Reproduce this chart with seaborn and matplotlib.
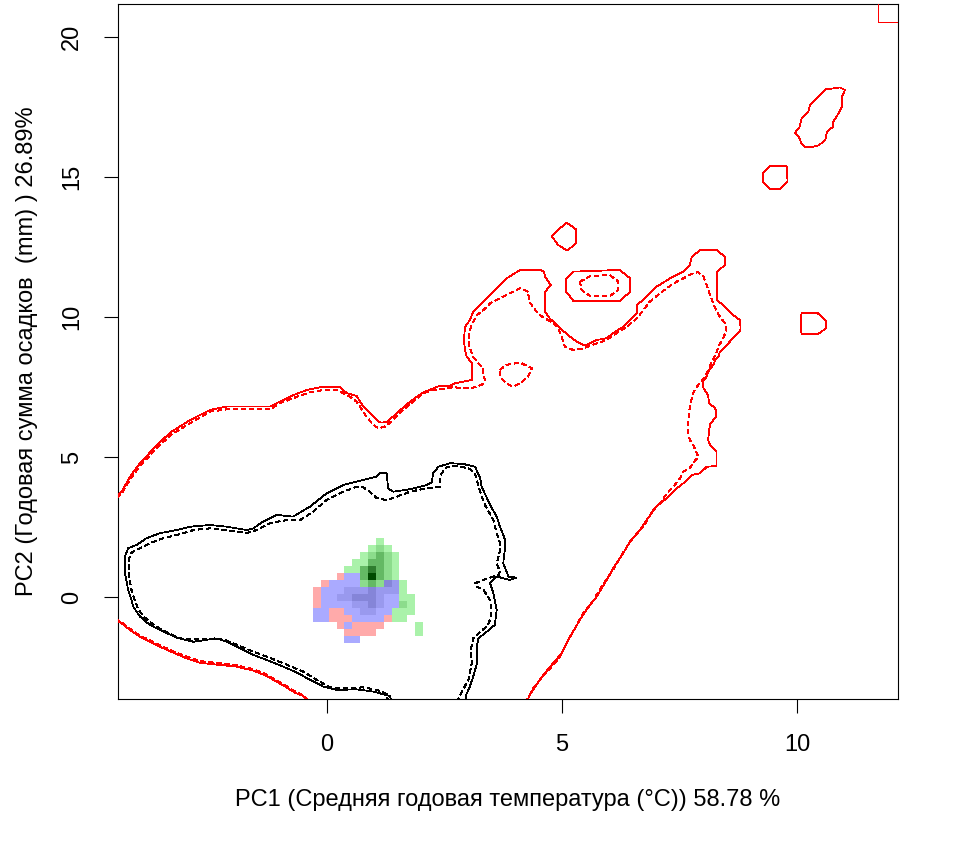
import numpy as np
import matplotlib
matplotlib.use("Agg")
import matplotlib.pyplot as plt
from matplotlib.colors import to_rgba
import seaborn as sns

sns.set_theme(style="white")
plt.rcParams["font.family"] = ["Liberation Sans", "DejaVu Sans"]
plt.rcParams["lines.scale_dashes"] = False

XLIM = (-4.447, 12.149)
YLIM = (-3.643, 21.18)
X_TICKS = [0, 5, 10]
Y_TICKS = [0, 5, 10, 15, 20]
X_LABEL = "PC1 (Средняя годовая температура (°C)) 58.78 %"
Y_LABEL = "PC2 (Годовая сумма осадков  (mm) ) 26.89%"

# occupied block of the 100x100 density grid (top-left cell corner + cell size)
GRID_X0, GRID_Y0 = -0.298, 2.066
GRID_DX, GRID_DY = 0.166, 0.2482
GRID_ROWS = [
    "........a.....",
    ".......aba....",
    "......abcba...",
    ".....aaccba...",
    "....aacdcba...",
    "...ruucecba...",
    ".ruuuubcbwva..",
    "ruuuvvvwvvva..",
    "ruuvvwwwvuuaa.",
    "ruuuuvvwvuuba.",
    "uurruuvvuuaaa.",
    "uurrruuuuraa..",
    "...rurrrr....a",
    "....rrrr.....a",
    "....uu........",
]
CELL_COLORS = {
    "r": "#ffaaaa",  # unfilling
    "a": "#aaf2aa", "b": "#8cdc8c", "c": "#64b964", "d": "#2e7d2e", "e": "#004b00",  # expansion
    "u": "#aaaaff", "v": "#9999ee", "w": "#8585d8",  # stability
}

# red: invaded-range environment (solid 100 %, dashed 50 %)
RED_SOLID_MAIN = [
    (-4.47, 3.60), (-4.37, 3.76), (-4.19, 4.30), (-3.98, 4.78), (-3.70, 5.28), (-3.34, 5.87),
    (-2.91, 6.32), (-2.49, 6.68), (-2.13, 6.80), (-1.64, 6.80), (-1.21, 6.80), (-1.00, 6.98),
    (-0.72, 7.21), (-0.43, 7.39), (-0.15, 7.49), (0.28, 7.49), (0.42, 7.28), (0.63, 7.18),
    (0.77, 6.80), (0.99, 6.44), (1.13, 6.23), (1.27, 6.24), (1.48, 6.56), (1.77, 6.98),
    (2.05, 7.31), (2.40, 7.54), (2.62, 7.54), (2.72, 7.63), (2.90, 7.69), (3.08, 7.75),
    (3.09, 7.93), (3.09, 8.35), (2.97, 8.58), (2.94, 8.82), (2.91, 9.18), (2.94, 9.65),
    (3.04, 9.89), (3.11, 10.19), (3.29, 10.49), (3.54, 10.90), (3.82, 11.38), (4.11, 11.68),
    (4.53, 11.68), (4.62, 11.62), (4.64, 11.44), (4.76, 11.14), (4.64, 10.90), (4.64, 10.19),
    (4.74, 9.95), (4.96, 9.60), (5.17, 9.30), (5.31, 9.12), (5.45, 9.00), (5.53, 9.00),
    (5.74, 9.18), (5.95, 9.24), (6.09, 9.42), (6.30, 9.65), (6.45, 9.89), (6.59, 10.13),
    (6.60, 10.43), (6.80, 10.73), (7.01, 11.08), (7.30, 11.38), (7.44, 11.50), (7.58, 11.62),
    (7.72, 11.86), (7.76, 12.15), (7.94, 12.39), (8.29, 12.39), (8.47, 12.15), (8.47, 11.86),
    (8.30, 11.62), (8.30, 10.61), (8.50, 10.31), (8.64, 10.07), (8.79, 9.89), (8.80, 9.54),
    (8.64, 9.24), (8.47, 8.94), (8.36, 8.76), (8.33, 8.58), (8.26, 8.46), (8.22, 8.29),
    (8.11, 8.05), (8.08, 7.87), (7.99, 7.69), (8.01, 7.45), (8.11, 7.21), (8.13, 6.92),
    (8.22, 6.80), (8.28, 6.68), (8.28, 6.44), (8.16, 6.20), (8.13, 5.96), (8.11, 5.61),
    (8.15, 5.43), (8.29, 5.19), (8.29, 4.68), (8.08, 4.65), (7.94, 4.42), (7.76, 4.36),
    (7.58, 4.06), (7.44, 3.88), (7.23, 3.53), (7.01, 3.23), (6.80, 2.75), (6.66, 2.39),
    (6.45, 1.98), (6.30, 1.56), (6.09, 1.03), (5.95, 0.61), (5.74, 0.01), (5.56, -0.35),
    (5.38, -0.82), (5.17, -1.42), (4.99, -2.01), (4.81, -2.37), (4.60, -2.79), (4.46, -3.14),
    (4.36, -3.38), (4.30, -3.56), (4.25, -3.75),
]
RED_DASHED_MAIN = [
    (-4.47, 3.55), (-4.37, 3.70), (-4.19, 4.20), (-3.98, 4.68), (-3.70, 5.18), (-3.34, 5.77),
    (-2.91, 6.21), (-2.49, 6.62), (-2.13, 6.70), (-1.64, 6.70), (-1.21, 6.70), (-1.00, 6.92),
    (-0.64, 7.15), (-0.36, 7.31), (-0.08, 7.39), (0.21, 7.39), (0.35, 7.28), (0.49, 7.15),
    (0.63, 6.98), (0.70, 6.80), (0.84, 6.44), (0.99, 6.14), (1.09, 6.03), (1.23, 6.08),
    (1.41, 6.32), (1.62, 6.68), (1.84, 6.98), (2.05, 7.28), (2.26, 7.39), (2.44, 7.43),
    (2.69, 7.49), (2.97, 7.45), (3.15, 7.49), (3.33, 7.61), (3.36, 7.75), (3.31, 7.99),
    (3.33, 8.17), (3.22, 8.35), (3.11, 8.58), (3.03, 8.94), (3.01, 9.24), (3.04, 9.54),
    (3.11, 9.83), (3.19, 10.07), (3.33, 10.25), (3.47, 10.49), (3.68, 10.67), (3.89, 10.85),
    (4.11, 11.03), (4.28, 10.90), (4.30, 10.55), (4.46, 10.19), (4.52, 10.07), (4.67, 9.92),
    (4.81, 9.78), (4.92, 9.60), (4.99, 9.30), (5.06, 8.94), (5.24, 8.82), (5.46, 8.88),
    (5.74, 9.06), (5.95, 9.18), (6.16, 9.42), (6.38, 9.65), (6.59, 9.95), (6.73, 10.25),
    (6.87, 10.55), (7.09, 10.85), (7.37, 11.20), (7.58, 11.38), (7.79, 11.56), (7.90, 11.60),
    (8.01, 11.44), (8.08, 11.14), (8.15, 10.79), (8.26, 10.31), (8.36, 10.01), (8.47, 9.78),
    (8.50, 9.54), (8.43, 9.24), (8.33, 8.94), (8.28, 8.70), (8.19, 8.40), (8.08, 7.99),
    (8.01, 7.81), (7.87, 7.51), (7.79, 7.28), (7.72, 6.80), (7.69, 6.32), (7.69, 5.79),
    (7.72, 5.61), (7.79, 5.43), (7.90, 5.01), (7.79, 4.78), (7.72, 4.60), (7.58, 4.48),
    (7.51, 4.24), (7.37, 3.94), (7.23, 3.70), (7.09, 3.35), (6.94, 3.11), (6.80, 2.69),
    (6.66, 2.39), (6.45, 1.98), (6.27, 1.50), (6.06, 0.90), (5.84, 0.37), (5.63, -0.23),
    (5.45, -0.58), (5.28, -1.12), (5.10, -1.65), (4.96, -2.13), (4.78, -2.49), (4.53, -2.96),
    (4.39, -3.26), (4.30, -3.54), (4.22, -3.75),
]
RED_SOLID_LOW = [
    (-4.50, -0.80), (-4.37, -0.94), (-4.19, -1.18), (-3.98, -1.42), (-3.77, -1.60), (-3.55, -1.78),
    (-3.27, -1.99), (-2.99, -2.19), (-2.70, -2.35), (-2.28, -2.43), (-1.92, -2.49), (-1.57, -2.63),
    (-1.28, -2.82), (-1.07, -3.03), (-0.86, -3.23), (-0.68, -3.42), (-0.50, -3.54), (-0.40, -3.70),
]
RED_DASHED_LOW = [
    (-4.50, -0.77), (-4.37, -0.91), (-4.19, -1.14), (-3.98, -1.38), (-3.77, -1.55), (-3.55, -1.73),
    (-3.27, -1.94), (-2.99, -2.13), (-2.70, -2.29), (-2.28, -2.37), (-1.92, -2.44), (-1.57, -2.58),
    (-1.28, -2.77), (-1.07, -2.98), (-0.86, -3.19), (-0.68, -3.38), (-0.50, -3.51), (-0.42, -3.70),
]
RED_ISLANDS_SOLID = [
    [(5.10, 13.37), (5.30, 13.13), (5.30, 12.63), (5.11, 12.37), (4.92, 12.57), (4.78, 12.89), (4.96, 13.17)],
    [(5.09, 11.38), (5.24, 11.62), (6.23, 11.68), (6.45, 11.38), (6.45, 10.90), (6.23, 10.58),
     (5.24, 10.58), (5.09, 10.90)],
    [(9.96, 16.58), (10.06, 16.80), (10.10, 17.10), (10.24, 17.33), (10.28, 17.57), (10.45, 17.87),
     (10.60, 18.13), (10.81, 18.17), (10.91, 18.20), (11.02, 18.11), (10.96, 17.87), (10.96, 17.51),
     (10.84, 17.15), (10.77, 16.98), (10.77, 16.80), (10.64, 16.62), (10.60, 16.32), (10.47, 16.14),
     (10.35, 16.08), (10.17, 16.08), (10.09, 16.20), (10.06, 16.38)],
    [(9.43, 15.39), (9.78, 15.39), (9.80, 14.83), (9.62, 14.56), (9.43, 14.58), (9.27, 14.83), (9.27, 15.13)],
    [(10.10, 10.15), (10.43, 10.15), (10.62, 9.87), (10.62, 9.60), (10.45, 9.39), (10.10, 9.39),
     (10.08, 9.60), (10.08, 10.01)],
]
RED_ISLANDS_DASHED = [
    [(5.38, 11.26), (5.60, 11.46), (6.02, 11.50), (6.20, 11.26), (6.20, 10.96), (6.02, 10.75),
     (5.60, 10.75), (5.42, 10.96)],
    [(3.68, 8.11), (3.82, 8.29), (4.11, 8.37), (4.36, 8.17), (4.28, 7.87), (4.11, 7.63),
     (3.95, 7.51), (3.82, 7.63), (3.68, 7.87)],
]
RED_CORNER = [(11.73, 21.30), (11.73, 20.55), (12.20, 20.55)]

# black: native-range environment (solid 100 %, dashed 50 %)
BLACK_SOLID = [
    (1.38, -3.75), (1.34, -3.54), (0.99, -3.38), (0.63, -3.30), (0.21, -3.32), (-0.08, -3.20),
    (-0.36, -2.96), (-0.64, -2.70), (-0.93, -2.49), (-1.28, -2.25), (-1.57, -2.07), (-1.78, -1.89),
    (-2.06, -1.65), (-2.28, -1.51), (-2.49, -1.51), (-2.84, -1.60), (-3.20, -1.45), (-3.55, -1.18),
    (-3.77, -1.00), (-3.98, -0.70), (-4.12, -0.35), (-4.16, -0.11), (-4.23, 0.25), (-4.30, 0.85),
    (-4.30, 1.44), (-4.23, 1.74), (-4.05, 1.86), (-3.84, 2.10), (-3.55, 2.28), (-3.20, 2.39),
    (-2.91, 2.51), (-2.49, 2.57), (-2.13, 2.51), (-1.71, 2.39), (-1.57, 2.45), (-1.36, 2.69),
    (-1.07, 2.93), (-0.72, 2.87), (-0.36, 3.23), (-0.01, 3.70), (0.35, 4.00), (0.77, 4.18),
    (1.06, 4.30), (1.13, 4.44), (1.27, 4.42), (1.30, 3.88), (1.41, 3.76), (1.77, 3.85),
    (2.12, 4.00), (2.23, 4.10), (2.26, 4.42), (2.37, 4.65), (2.62, 4.78), (2.90, 4.75),
    (3.15, 4.65), (3.26, 4.24), (3.29, 3.94), (3.47, 3.29), (3.61, 2.87), (3.68, 2.51),
    (3.79, 2.04), (3.79, 1.80), (3.75, 1.20), (3.86, 0.73), (4.02, 0.69), (3.89, 0.61),
    (3.75, 0.67), (3.61, 0.73), (3.47, 0.49), (3.54, 0.13), (3.61, -0.46), (3.57, -1.00),
    (3.40, -1.24), (3.22, -1.48), (3.19, -1.78), (3.19, -2.37), (3.11, -2.85), (3.04, -3.20),
    (2.96, -3.50), (2.94, -3.75),
]
BLACK_DASHED = [
    (1.30, -3.75), (1.27, -3.46), (1.06, -3.32), (0.77, -3.23), (0.35, -3.26), (0.06, -3.23),
    (-0.22, -2.96), (-0.50, -2.67), (-0.93, -2.37), (-1.28, -2.13), (-1.57, -1.95), (-1.92, -1.71),
    (-2.13, -1.56), (-2.35, -1.48), (-2.77, -1.51), (-3.13, -1.48), (-3.48, -1.20), (-3.69, -1.00),
    (-3.90, -0.70), (-4.01, -0.46), (-4.09, -0.11), (-4.16, 0.25), (-4.22, 0.79), (-4.22, 1.32),
    (-4.17, 1.57), (-3.98, 1.74), (-3.77, 1.92), (-3.48, 2.10), (-3.20, 2.21), (-2.84, 2.39),
    (-2.49, 2.45), (-2.13, 2.39), (-1.71, 2.28), (-1.50, 2.39), (-1.21, 2.63), (-0.93, 2.73),
    (-0.57, 2.75), (-0.29, 3.05), (-0.01, 3.46), (0.35, 3.76), (0.63, 3.94), (0.77, 3.92),
    (0.91, 3.76), (1.06, 3.53), (1.27, 3.46), (1.48, 3.58), (1.77, 3.76), (2.12, 3.88),
    (2.40, 3.94), (2.40, 4.18), (2.44, 4.42), (2.55, 4.65), (2.76, 4.68), (3.04, 4.58),
    (3.15, 4.38), (3.19, 4.18), (3.22, 3.94), (3.36, 3.29), (3.54, 2.75), (3.61, 2.28),
    (3.68, 1.92), (3.67, 1.56), (3.61, 1.20), (3.68, 0.90), (3.65, 0.79), (3.54, 0.73),
    (3.33, 0.61), (3.15, 0.49), (3.19, 0.37), (3.33, 0.25), (3.47, -0.11), (3.50, -0.46),
    (3.47, -0.82), (3.40, -1.06), (3.26, -1.24), (3.11, -1.48), (3.06, -1.89), (3.08, -2.37),
    (3.01, -2.96), (2.87, -3.38), (2.77, -3.75),
]

DASH = (0, (3.0, 2.6))

fig = plt.figure(figsize=(9.6, 8.46), dpi=100)
ax = fig.add_axes([0.1229, 0.1738, 0.8125, 0.8215])

# density raster
nrow, ncol = len(GRID_ROWS), len(GRID_ROWS[0])
img = np.zeros((nrow, ncol, 4))
for i, row in enumerate(GRID_ROWS):
    for j, ch in enumerate(row):
        if ch != ".":
            img[i, j] = to_rgba(CELL_COLORS[ch])
ax.imshow(img, extent=[GRID_X0, GRID_X0 + ncol * GRID_DX, GRID_Y0 - nrow * GRID_DY, GRID_Y0],
          origin="upper", interpolation="nearest", aspect="auto", zorder=1)


def draw(path, color, dashed=False, closed=False):
    pts = np.asarray(path, dtype=float)
    if closed:
        pts = np.vstack([pts, pts[:1]])
    sns.lineplot(x=pts[:, 0], y=pts[:, 1], sort=False, estimator=None, ax=ax,
                 color=color, linewidth=0.55, linestyle=DASH if dashed else "-",
                 antialiased=False, zorder=3)


draw(RED_SOLID_MAIN, "red")
draw(RED_DASHED_MAIN, "red", dashed=True)
draw(RED_SOLID_LOW, "red")
draw(RED_DASHED_LOW, "red", dashed=True)
for isl in RED_ISLANDS_SOLID:
    draw(isl, "red", closed=True)
for isl in RED_ISLANDS_DASHED:
    draw(isl, "red", dashed=True, closed=True)
draw(RED_CORNER, "red")
draw(BLACK_SOLID, "black")
draw(BLACK_DASHED, "black", dashed=True)

ax.set_xlim(*XLIM)
ax.set_ylim(*YLIM)
ax.set_xticks(X_TICKS)
ax.set_yticks(Y_TICKS)
ax.tick_params(direction="out", length=10, width=0.8, color="black", pad=15,
               labelsize=17, labelcolor="black", bottom=True, left=True)
for lbl in ax.get_yticklabels():
    lbl.set_rotation(90)
    lbl.set_va("center")
for sp in ax.spines.values():
    sp.set_color("black")
    sp.set_linewidth(0.8)
ax.grid(False)

ax.set_xlabel(X_LABEL, fontsize=17, color="black")
ax.set_ylabel(Y_LABEL, fontsize=17, color="black")
ax.xaxis.set_label_coords(0.5, -0.130)
ax.yaxis.set_label_coords(-0.103, 0.5)

fig.savefig("out.png", dpi=100, facecolor="white")
